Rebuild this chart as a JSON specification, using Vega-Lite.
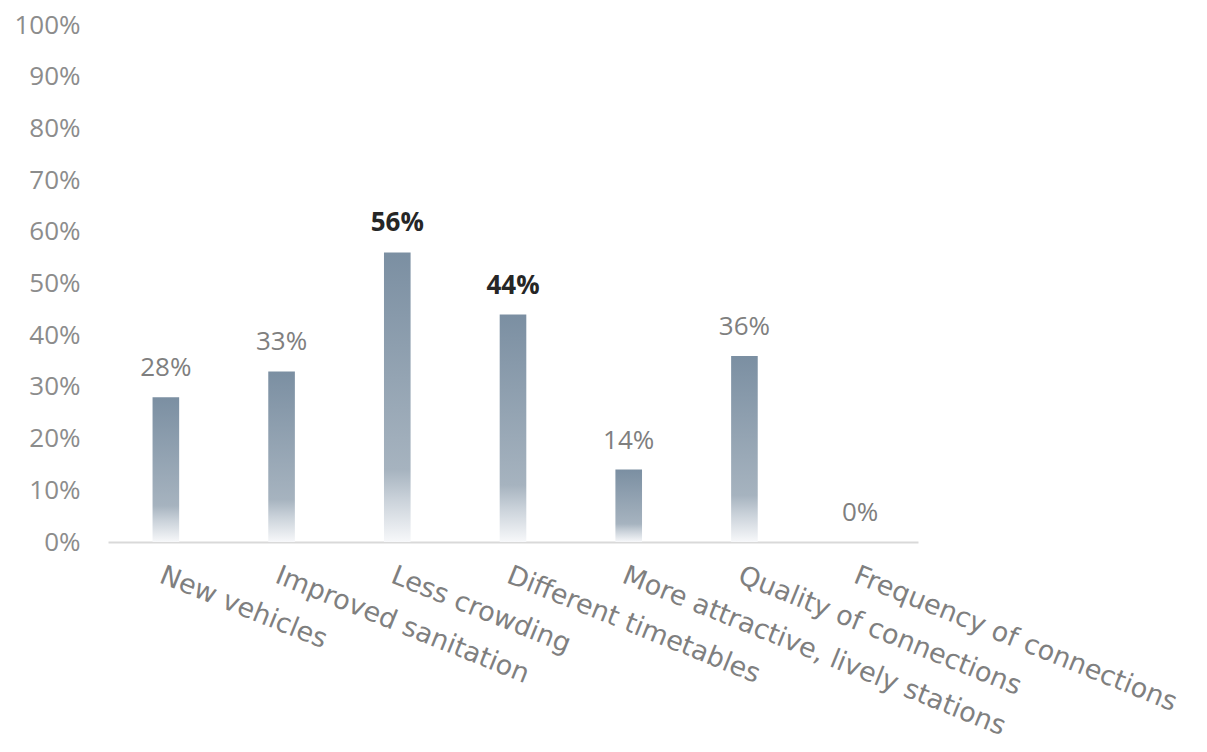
{
  "$schema": "https://vega.github.io/schema/vega-lite/v6.json",
  "width": 810,
  "height": 517,
  "autosize": {"type": "none"},
  "padding": {"left": 108, "top": 25, "right": 289, "bottom": 210},
  "background": "white",
  "config": {
    "view": {"stroke": null},
    "font": "Open Sans"
  },
  "data": {
    "values": [
      {"category": "New vehicles", "value": 0.28},
      {"category": "Improved sanitation", "value": 0.33},
      {"category": "Less crowding", "value": 0.56},
      {"category": "Different timetables", "value": 0.44},
      {"category": "More attractive, lively stations", "value": 0.14},
      {"category": "Quality of connections", "value": 0.36},
      {"category": "Frequency of connections", "value": 0.0}
    ]
  },
  "encoding": {
    "x": {
      "field": "category",
      "type": "nominal",
      "sort": null,
      "scale": {"paddingInner": 0.77, "paddingOuter": 0.385},
      "axis": {
        "title": null,
        "labelAngle": 22,
        "labelAlign": "left",
        "labelBaseline": "top",
        "labelPadding": 20,
        "labelFont": "DejaVu Sans",
        "labelFontSize": 27,
        "labelColor": "#7f7f7f",
        "labelLimit": 0,
        "labelOverlap": false,
        "ticks": false,
        "domainColor": "#d9d9d9",
        "domainWidth": 2,
        "grid": false
      }
    },
    "y": {
      "field": "value",
      "type": "quantitative",
      "scale": {"domain": [0, 1], "nice": false},
      "axis": {
        "title": null,
        "format": ".0%",
        "values": [0, 0.1, 0.2, 0.3, 0.4, 0.5, 0.6, 0.7, 0.8, 0.9, 1],
        "labelFontSize": 26,
        "labelColor": "#8c8c8c",
        "labelPadding": 28,
        "labelOverlap": false,
        "ticks": false,
        "domain": false,
        "grid": false
      }
    }
  },
  "layer": [
    {
      "mark": {
        "type": "bar",
        "color": {
          "gradient": "linear",
          "x1": 0, "y1": 0, "x2": 0, "y2": 1,
          "stops": [
            {"offset": 0, "color": "#7b8fa2"},
            {"offset": 0.75, "color": "#a6b3bf"},
            {"offset": 0.85, "color": "#c9d1d9"},
            {"offset": 1, "color": "#f7f8fa"}
          ]
        }
      }
    },
    {
      "transform": [{"filter": "datum.value < 0.4"}],
      "mark": {"type": "text", "dy": -29, "fontSize": 26, "color": "#7f7f7f"},
      "encoding": {"text": {"field": "value", "type": "quantitative", "format": ".0%"}}
    },
    {
      "transform": [{"filter": "datum.value >= 0.4"}],
      "mark": {"type": "text", "dy": -29, "fontSize": 26, "fontWeight": "bold", "color": "#262626"},
      "encoding": {"text": {"field": "value", "type": "quantitative", "format": ".0%"}}
    }
  ]
}
